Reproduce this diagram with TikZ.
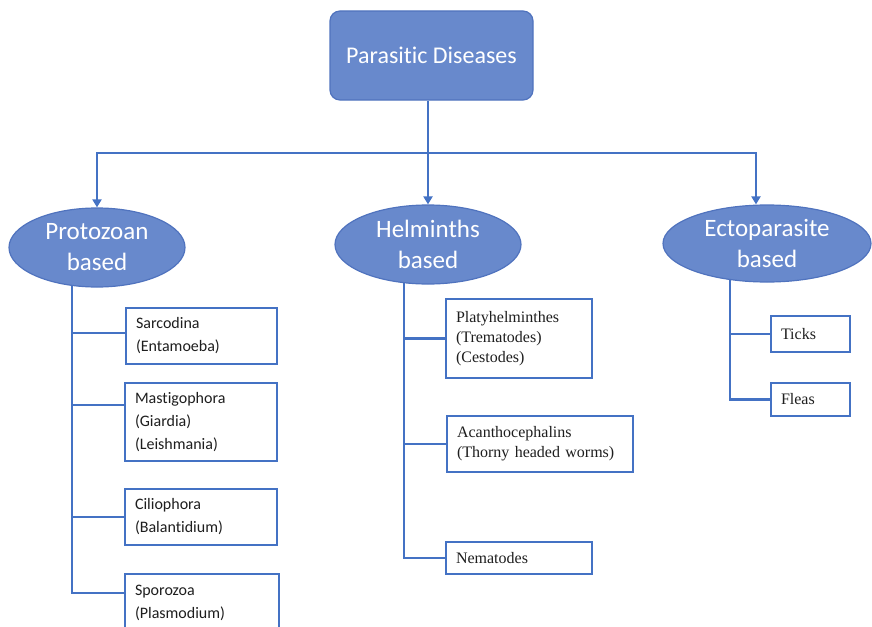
\documentclass[tikz,border=0pt]{standalone}
\usepackage{fontspec}
\newfontfamily\carl[Ligatures={NoCommon,NoRare}]{Carlito}
\newfontfamily\tms{Liberation Serif}
\usetikzlibrary{shapes.geometric,arrows.meta,backgrounds}
\definecolor{lineblue}{RGB}{68,114,196}
\definecolor{fillblue}{RGB}{104,137,204}
\definecolor{edgeblue}{RGB}{80,115,190}
\definecolor{txtgray}{RGB}{30,30,30}
\begin{document}
\begin{tikzpicture}[x=1pt,y=-1pt,
  conn/.style={draw=lineblue,line width=2.5pt},
  arr/.style={conn,-{Triangle[length=8pt,width=9pt]}},
  rootbox/.style={rectangle,rounded corners=10pt,fill=fillblue,draw=edgeblue,line width=1.2pt,text=white,
    font=\carl\fontsize{24}{30}\selectfont,minimum width=203pt,minimum height=89pt},
  cat/.style={ellipse,fill=fillblue,draw=edgeblue,line width=1.2pt,text=white,
    font=\carl\fontsize{25}{31}\selectfont,align=center,inner sep=0pt},
  leafbox/.style={rectangle,draw=lineblue,line width=2.5pt,fill=white,anchor=north west,outer sep=0pt,
    align=left,inner xsep=10pt,inner ysep=0pt,text=txtgray},
  sansleaf/.style={leafbox,font=\carl\fontsize{16}{23}\selectfont},
  serifleaf/.style={leafbox,font=\tms\fontsize{16}{20}\selectfont}]
\useasboundingbox (0,0) rectangle (872,626);

\node[rootbox] (root) at (431.5,55.5) {Parasitic Diseases};

\node[cat,minimum width=176pt,minimum height=79pt] (proto) at (97,247.5) {Protozoan\\based};
\node[cat,minimum width=186pt,minimum height=79pt] (helm) at (428,244.5) {Helminths\\based};
\node[cat,minimum width=208pt,minimum height=77pt] (ecto) at (767,243.5) {Ectoparasite\\based};

\node[sansleaf,minimum width=151pt,minimum height=56pt,text width=131pt] (sar) at (126,308) {Sarcodina\\(Entamoeba)};
\node[sansleaf,minimum width=152pt,minimum height=78pt,text width=132pt] (mas) at (125,383) {Mastigophora\\(Giardia)\\(Leishmania)};
\node[sansleaf,minimum width=152pt,minimum height=56pt,text width=132pt] (cil) at (125,489) {Ciliophora\\(Balantidium)};
\node[sansleaf,minimum width=154pt,minimum height=58pt,text width=134pt] (spo) at (125,574) {Sporozoa\\(Plasmodium)};

\node[serifleaf,minimum width=146pt,minimum height=79pt,text width=126pt] (pla) at (446,299) {Platyhelminthes\\(Trematodes)\\(Cestodes)};
\node[serifleaf,minimum width=186pt,minimum height=56pt,text width=166pt] (aca) at (447,416) {Acanthocephalins\\(Thorny headed worms)};
\node[serifleaf,minimum width=146pt,minimum height=32pt,text width=126pt] (nem) at (446,542) {Nematodes};

\node[serifleaf,minimum width=79pt,minimum height=36pt,text width=59pt] (tic) at (771,316) {Ticks};
\node[serifleaf,minimum width=79pt,minimum height=33pt,text width=59pt] (fle) at (771,383) {Fleas};

\coordinate (sarb) at ([yshift=3pt]sar.west);
\coordinate (masb) at ([yshift=17pt]mas.west);
\coordinate (spob) at ([yshift=10pt]spo.west);
\coordinate (ectoin) at ([xshift=-11pt]ecto.north);

\begin{scope}[on background layer]
  \coordinate (hub) at (428,153);
  \draw[conn] (root.south -| hub) -- (hub);
  \draw[arr] (hub) -| (proto.north);
  \draw[arr] (hub) -- (helm.north);
  \draw[arr] (hub) -| (ectoin);

  \coordinate (ptop) at (72,250);
  \draw[conn] (ptop) |- (spob);
  \draw[conn] (ptop |- sarb) -- (sarb);
  \draw[conn] (ptop |- masb) -- (masb);
  \draw[conn] (ptop |- cil.west) -- (cil.west);

  \coordinate (htop) at (404,244);
  \draw[conn] (htop) |- (nem.west);
  \draw[conn] (htop |- pla.west) -- (pla.west);
  \draw[conn] (htop |- aca.west) -- (aca.west);

  \coordinate (etop) at (730,244);
  \draw[conn] (etop) |- (fle.west);
  \draw[conn] (etop |- tic.west) -- (tic.west);
\end{scope}
\end{tikzpicture}
\end{document}
